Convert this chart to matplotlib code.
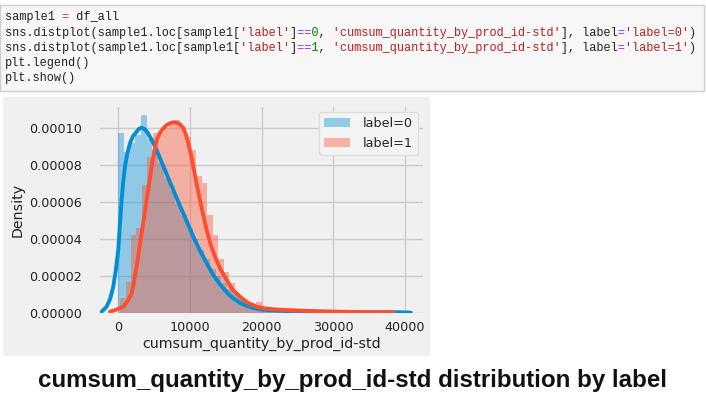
import numpy as np
import matplotlib
matplotlib.use("Agg")
import matplotlib.pyplot as plt
from matplotlib.patches import Rectangle, Patch

# ---------------- data ----------------
code_lines = [
    [("sample1 ", "#222222"), ("=", "#aa22ff"), (" df_all", "#222222")],
    [("sns.distplot(sample1.loc[sample1[", "#222222"), ("'label'", "#ba2121"), ("]", "#222222"),
     ("==", "#aa22ff"), ("0", "#008800"), (", ", "#222222"),
     ("'cumsum_quantity_by_prod_id-std'", "#ba2121"), ("], label", "#222222"), ("=", "#aa22ff"),
     ("'label=0'", "#ba2121"), (")", "#222222")],
    [("sns.distplot(sample1.loc[sample1[", "#222222"), ("'label'", "#ba2121"), ("]", "#222222"),
     ("==", "#aa22ff"), ("1", "#008800"), (", ", "#222222"),
     ("'cumsum_quantity_by_prod_id-std'", "#ba2121"), ("], label", "#222222"), ("=", "#aa22ff"),
     ("'label=1'", "#ba2121"), (")", "#222222")],
    [("plt.legend()", "#222222")],
    [("plt.show()", "#222222")],
]

series_labels = ["label=0", "label=1"]

# histogram of label=0 (density x1e5, bins of width 800 starting at 0)
hist0_start = 0
hist0_width = 800
hist0_heights = [9.7, 8.7, 9.2, 9.6, 10.7, 9.4, 8.8, 8.1, 7.3, 6.6,
                 5.9, 5.3, 4.6, 4.0, 3.4, 2.9, 2.4, 2.0, 1.6, 1.3,
                 1.0, 0.75, 0.55, 0.4, 0.3, 0.22, 0.17, 0.13, 0.1, 0.09,
                 0.07, 0.06, 0.05, 0.05, 0.04, 0.04, 0.03, 0.03, 0.03, 0.02,
                 0.02, 0.02, 0.02, 0.02, 0.01, 0.01, 0.01, 0.01, 0.01, 0.03]

# histogram of label=1 (density x1e5, bins of width 760 starting at 300)
hist1_start = 300
hist1_width = 760
hist1_heights = [0.8, 1.7, 4.2, 4.6, 6.9, 8.4, 9.7, 9.7, 10.0, 10.2,
                 10.4, 10.1, 9.5, 8.8, 7.4, 7.0, 5.3, 4.2, 2.9, 2.2,
                 1.6, 1.1, 0.75, 0.5, 0.45, 0.6, 0.3, 0.22, 0.18, 0.15,
                 0.13, 0.12, 0.12, 0.1, 0.08, 0.06, 0.05, 0.05, 0.04, 0.03,
                 0.03, 0.03, 0.02, 0.02, 0.02, 0.02, 0.03, 0.02, 0.02, 0.01]

# KDE curves (x, density x1e5)
kde0_x = [-2276, -1580, -1100, -650, -300, 46, 280, 511, 740, 976, 1300, 1672,
          2100, 2602, 2950, 3300, 3763, 4100, 4460, 4900, 5390, 5950, 6550,
          7100, 7710, 8400, 9105, 9800, 10500, 11200, 11890, 12600, 13280,
          14000, 14680, 15400, 16070, 17000, 17930, 18800, 19790, 21000,
          23040, 27690, 34660, 39300, 40800]
kde0_y = [0.07, 0.34, 0.75, 1.42, 2.3, 3.4, 4.8, 6.1, 7.1, 7.9, 8.6, 9.16,
          9.55, 9.78, 9.95, 10.0, 9.91, 9.75, 9.51, 9.2, 8.8, 8.27, 7.72,
          7.2, 6.64, 6.0, 5.38, 4.75, 4.12, 3.55, 3.04, 2.52, 2.05,
          1.66, 1.33, 1.02, 0.79, 0.55, 0.38, 0.27, 0.2, 0.15,
          0.11, 0.07, 0.05, 0.04, 0.02]

kde1_x = [-1115, -300, 743, 1300, 1905, 2250, 2602, 2950, 3300, 3650, 3997,
          4350, 4694, 5050, 5391, 5850, 6320, 6800, 7247, 7700, 8176, 8650,
          9105, 9450, 9801, 10150, 10498, 10950, 11426, 11900, 12356, 12900,
          13519, 14300, 15145, 16000, 17003, 18100, 19330, 20400, 21650,
          23500, 25370, 27500, 30000, 34670, 38370]
kde1_y = [0.07, 0.17, 0.34, 0.62, 1.06, 1.7, 2.5, 3.4, 4.3, 5.2, 6.1,
          7.0, 7.9, 8.7, 9.34, 9.72, 9.97, 10.15, 10.24, 10.3, 10.27, 10.18,
          9.97, 9.65, 9.16, 8.58, 7.9, 7.0, 6.1, 5.25, 4.48, 3.7,
          3.04, 2.35, 1.78, 1.25, 0.88, 0.55, 0.34, 0.25, 0.2,
          0.16, 0.13, 0.1, 0.07, 0.05, 0.04]

x_ticks = [0, 10000, 20000, 30000, 40000]
y_ticks = [0.0, 0.00002, 0.00004, 0.00006, 0.00008, 0.00010]
x_label = "cumsum_quantity_by_prod_id-std"
y_label = "Density"
caption = "cumsum_quantity_by_prod_id-std distribution by label"

# ---------------- figure ----------------
W, H = 706, 396
fig = plt.figure(figsize=(W / 100, H / 100), dpi=100, facecolor="white")

def fx(px):
    return px / W

def fy(py):
    return 1 - py / H

# code cell box
fig.patches.append(Rectangle((fx(0), fy(91)), fx(704) - fx(0), fy(5) - fy(91),
                             transform=fig.transFigure, facecolor="#f7f7f7",
                             edgecolor="#cfcfcf", linewidth=1.0, zorder=-2))
# chart image background
fig.patches.append(Rectangle((fx(3), fy(356)), fx(430) - fx(3), fy(97) - fy(356),
                             transform=fig.transFigure, facecolor="#f0f0f0",
                             edgecolor="none", zorder=-2))

# code text: one layer per colour, other characters blanked (monospace keeps alignment)
mono = "Liberation Mono"
line_y = [17, 33, 48, 63, 78]
for parts, yy in zip(code_lines, line_y):
    colours = []
    for _, c in parts:
        if c not in colours:
            colours.append(c)
    for col in colours:
        s = "".join(p if c == col else " " * len(p) for p, c in parts)
        fig.text(fx(5), fy(yy), s, fontsize=8.6, family=mono, color=col, va="center")

# axes
ax = fig.add_axes([fx(100), fy(313), fx(423) - fx(100), fy(107) - fy(313)])
ax.set_zorder(2)
ax.set_facecolor("#f0f0f0")
for sp in ax.spines.values():
    sp.set_visible(False)

blue = "#008fd5"
red = "#fc4f30"

e0 = [hist0_start + i * hist0_width for i in range(len(hist0_heights))]
e1 = [hist1_start + i * hist1_width for i in range(len(hist1_heights))]
ax.bar(e0, np.array(hist0_heights) * 1e-5, width=hist0_width, align="edge",
       color=blue, alpha=0.4, linewidth=0, zorder=2)
ax.bar(e1, np.array(hist1_heights) * 1e-5, width=hist1_width, align="edge",
       color=red, alpha=0.4, linewidth=0, zorder=2)
ax.plot(kde0_x, np.array(kde0_y) * 1e-5, color=blue, lw=2.8, zorder=3,
        solid_joinstyle="round", solid_capstyle="round")
ax.plot(kde1_x, np.array(kde1_y) * 1e-5, color=red, lw=2.8, zorder=3,
        solid_joinstyle="round", solid_capstyle="round")

ax.set_xlim(-2500, 42500)
ax.set_ylim(0, 0.0001112)
ax.set_xticks(x_ticks)
ax.set_xticklabels([str(v) for v in x_ticks])
ax.set_yticks(y_ticks)
ax.set_yticklabels([f"{v:.5f}" for v in y_ticks])
ax.grid(True, color="#cbcbcb", lw=1.0, zorder=0)
ax.set_axisbelow(True)
ax.tick_params(axis="x", length=0, labelsize=9.2, colors="#222222", pad=6)
ax.tick_params(axis="y", length=0, labelsize=9.2, colors="#222222", pad=13)
ax.set_xlabel(x_label, fontsize=10.2, color="#222222", labelpad=2)
ax.set_ylabel(y_label, fontsize=10.2, color="#222222", labelpad=3)

handles = [Patch(facecolor=blue, alpha=0.4, edgecolor="none"),
           Patch(facecolor=red, alpha=0.4, edgecolor="none")]
leg = ax.legend(handles, series_labels, loc="upper right", fontsize=9.2,
                facecolor="#f4f4f4", edgecolor="#dddddd", framealpha=1.0,
                borderaxespad=0.4, handlelength=2.0, handletextpad=1.0)
for txt in leg.get_texts():
    txt.set_color("#222222")

fig.text(0.5, fy(380), caption, ha="center", va="center", fontsize=17.4,
         family="Liberation Sans", fontweight="bold", color="#111111")

fig.savefig("out.png", dpi=100, facecolor="white")
